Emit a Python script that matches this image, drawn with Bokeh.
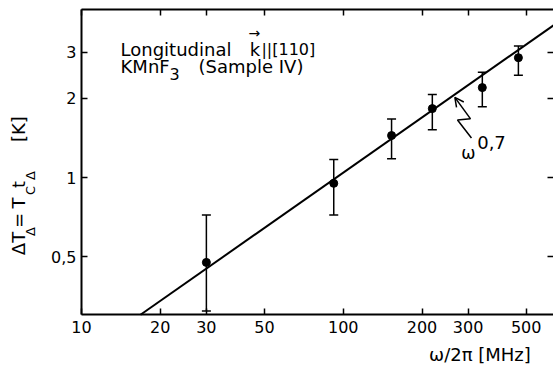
import math
from bokeh.plotting import figure
from bokeh.models import (ColumnDataSource, Whisker, TeeHead, LogAxis, FixedTicker,
                          Label, Arrow, OpenHead)
from bokeh.embed import file_html
from bokeh.resources import INLINE

# ---- data ----
freq_mhz = [30, 92, 153, 219, 340, 467]
delta_t = [0.475, 0.95, 1.445, 1.83, 2.20, 2.86]
err_upper = [0.72, 1.17, 1.67, 2.07, 2.52, 3.17]
err_lower = [0.31, 0.72, 1.18, 1.52, 1.86, 2.45]

# omega^0.7 fit line (end points)
fit_x = [16.8, 636]
fit_y = [0.30, 3.80]

x_ticks = [10, 20, 30, 50, 100, 200, 300, 500]
x_tick_labels = ["10", "20", "30", "50", "100", "200", "300", "500"]
y_ticks = [0.5, 1, 2, 3]
y_tick_labels = ["0,5", "1", "2", "3"]

# axis box of the chart (data limits)
X_MIN, X_MAX = 10, 636
Y_MIN, Y_MAX = 0.3, 4.365

FONT = "DejaVu Sans"

# the plotting area spans the whole canvas; the axes are pinned at the box limits
p = figure(x_axis_type="log", y_axis_type="log",
           x_range=(4.903, X_MAX), y_range=(0.184, 4.724),
           width=553, height=370,
           min_border_left=0, min_border_right=0, min_border_top=0, min_border_bottom=0,
           output_backend="svg", toolbar_location=None)
p.grid.visible = False
p.outline_line_color = None
p.background_fill_color = "white"
p.border_fill_color = "white"

def style_axis(ax, ticks, labels, show_labels=True, show_line=True):
    ax.ticker = FixedTicker(ticks=ticks)
    ax.major_tick_in = 6
    ax.major_tick_out = 0
    ax.major_tick_line_width = 1.5
    ax.major_tick_line_color = "black"
    ax.minor_tick_line_color = None
    ax.axis_line_width = 2
    ax.axis_line_color = "black" if show_line else None
    ax.major_label_text_font = FONT
    ax.major_label_text_font_size = "16px"
    if show_labels:
        ax.major_label_overrides = {t: l for t, l in zip(ticks, labels)}
        ax.major_label_text_color = "black"
    else:
        ax.major_label_overrides = {t: "" for t in ticks}
        ax.major_label_text_color = None

bx = p.xaxis[0]
style_axis(bx, x_ticks, x_tick_labels)
bx.fixed_location = Y_MIN
bx.bounds = (X_MIN, X_MAX)
bx.major_label_standoff = 6

ly = p.yaxis[0]
style_axis(ly, y_ticks, y_tick_labels)
ly.fixed_location = X_MIN
ly.bounds = (Y_MIN, Y_MAX)
ly.major_label_standoff = 5

top = LogAxis(fixed_location=Y_MAX, bounds=(X_MIN, X_MAX))
style_axis(top, x_ticks, x_tick_labels, show_labels=False)
p.add_layout(top, "above")
right = LogAxis(fixed_location=X_MAX, bounds=(Y_MIN, Y_MAX))
style_axis(right, y_ticks, y_tick_labels, show_labels=False, show_line=False)
p.add_layout(right, "right")

def lab(x, y, text, size="18px", align="left", baseline="alphabetic", angle=0.0):
    p.add_layout(Label(x=x, y=y, text=text, text_font=FONT, text_font_size=size,
                       text_align=align, text_baseline=baseline, angle=angle,
                       text_color="black"))

# fit line
p.line(fit_x, fit_y, line_color="black", line_width=2)

# data with error bars
src = ColumnDataSource(dict(x=freq_mhz, y=delta_t, upper=err_upper, lower=err_lower))
wh = Whisker(base="x", upper="upper", lower="lower", source=src,
             line_color="black", line_width=1.5,
             upper_head=TeeHead(size=9, line_width=1.5, line_color="black"),
             lower_head=TeeHead(size=9, line_width=1.5, line_color="black"))
p.add_layout(wh)
p.scatter("x", "y", source=src, size=8, fill_color="black", line_color="black")

# inset text
lab(14.1, 3.073, "Longitudinal")
lab(43.9, 3.073, "k")
lab(48.7, 3.073, "||[110]", size="16px")
lab(45.8, 3.55, "\u2192", size="14px", align="center", baseline="middle")
lab(14.1, 2.654, "KMnF")
lab(21.7, 2.477, "3", size="16px")
lab(28.0, 2.654, "(Sample IV)")

# omega^0.7 annotation
lab(301, 1.242, "\u03c9", size="17px", align="center")
lab(325, 1.355, "0,7")
p.add_layout(Arrow(x_start=306.5, y_start=1.673, x_end=267, y_end=2.02,
                   line_width=1.5, line_color="black",
                   end=OpenHead(size=9, line_width=1.5, line_color="black")))
p.line([306.5, 273.3, 309], [1.673, 1.656, 1.414], line_color="black", line_width=1.5)

# y axis label (rotated pieces)
A = math.pi / 2
XM, XS = 5.744, 6.385
lab(XM, 0.5605, "\u0394T", align="center", angle=A)
lab(XS, 0.6226, "\u0394", size="13px", align="center", angle=A)
lab(XM, 0.686, "=", align="center", angle=A)
lab(XM, 0.7995, "T", align="center", angle=A)
lab(XS, 0.892, "C", size="13px", align="center", angle=A)
lab(XM, 0.94, "t", align="center", angle=A)
lab(XS, 1.018, "\u0394", size="13px", align="center", angle=A)
lab(XM, 1.530, "[K]", align="center", angle=A)

# x axis label
lab(547.8, 0.212, "\u03c9/2\u03c0  [MHz]", align="right")

open("out.html", "w").write(file_html(p, INLINE))
